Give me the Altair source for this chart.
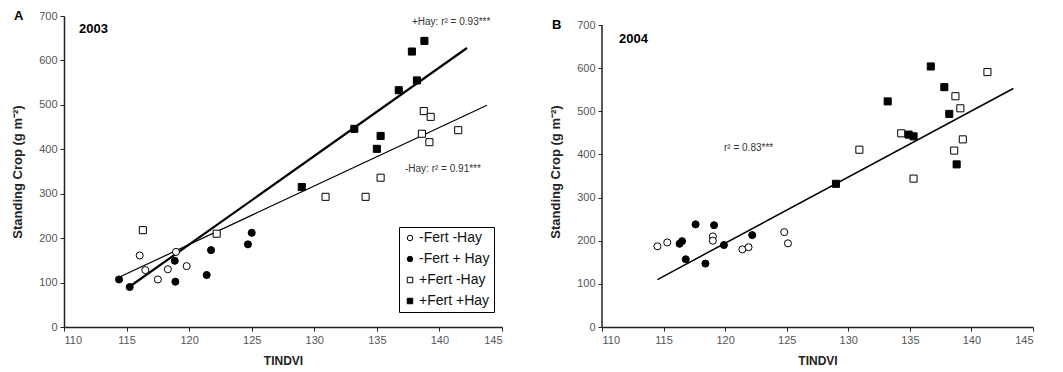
import altair as alt
import pandas as pd

groups = ["-Fert -Hay", "-Fert + Hay", "+Fert -Hay", "+Fert +Hay"]

# ---- 2003 (panel A) ----
a_ffh_x = [116.05, 116.5, 117.5, 118.3, 118.95, 119.8]
a_ffh_y = [161, 128, 107, 130, 169, 137]
a_fph_x = [114.4, 115.25, 118.85, 118.9, 121.4, 121.75, 124.7, 125.0]
a_fph_y = [107, 90, 149, 102, 117, 173, 186, 212]
a_pfh_x = [116.3, 122.2, 130.9, 134.1, 135.3, 138.6, 138.75, 139.2, 139.3, 141.5]
a_pfh_y = [218, 210, 293, 293, 336, 435, 486, 416, 473, 443]
a_pph_x = [129.0, 133.2, 135.0, 135.3, 136.75, 137.8, 138.2, 138.8]
a_pph_y = [315, 446, 401, 430, 533, 620, 555, 644]

a_hay_line_x = [115.2, 142.2]
a_hay_line_y = [90, 628]
a_nohay_line_x = [114.4, 143.8]
a_nohay_line_y = [112, 499]

# ---- 2004 (panel B) ----
b_ffh_x = [114.5, 115.3, 119.0, 119.0, 121.4, 121.9, 124.8, 125.1]
b_ffh_y = [187, 196, 210, 200, 180, 185, 220, 194]
b_fph_x = [116.3, 116.5, 116.8, 117.6, 118.4, 119.1, 119.9, 122.2]
b_fph_y = [193, 199, 157, 238, 147, 236, 190, 213]
b_pfh_x = [130.9, 134.3, 135.3, 138.6, 138.7, 139.1, 139.3, 141.3]
b_pfh_y = [411, 449, 344, 409, 535, 507, 435, 591]
b_pph_x = [129.0, 133.2, 134.9, 135.3, 136.7, 137.8, 138.2, 138.8]
b_pph_y = [332, 523, 446, 442, 604, 556, 494, 377]

b_line_x = [114.5, 143.4]
b_line_y = [110, 553]

x_ticks = [110, 115, 120, 125, 130, 135, 140, 145]
y_ticks = [0, 100, 200, 300, 400, 500, 600, 700]

FONT = "Liberation Sans"


def points_df(sets):
    rows = []
    for g, xs, ys in sets:
        for x, y in zip(xs, ys):
            rows.append({"TINDVI": x, "crop": y, "group": g})
    return pd.DataFrame(rows)


def line_df(xs, ys):
    return pd.DataFrame({"TINDVI": xs, "crop": ys})


dfA = points_df([(groups[0], a_ffh_x, a_ffh_y), (groups[1], a_fph_x, a_fph_y),
                 (groups[2], a_pfh_x, a_pfh_y), (groups[3], a_pph_x, a_pph_y)])
dfB = points_df([(groups[0], b_ffh_x, b_ffh_y), (groups[1], b_fph_x, b_fph_y),
                 (groups[2], b_pfh_x, b_pfh_y), (groups[3], b_pph_x, b_pph_y)])

xenc = alt.X("TINDVI:Q",
             scale=alt.Scale(domain=[110, 145], nice=False, zero=False),
             axis=alt.Axis(values=x_ticks, title="TINDVI", grid=False))
yencA = alt.Y("crop:Q",
              scale=alt.Scale(domain=[0, 700], nice=False),
              axis=alt.Axis(values=y_ticks, title="Standing Crop (g m⁻²)", grid=False))
# panel B: plot area is drawn 9 px lower at the top in the reference
yencB = alt.Y("crop:Q",
              scale=alt.Scale(domain=[0, 721], nice=False),
              axis=alt.Axis(values=y_ticks, title="Standing Crop (g m⁻²)", grid=False,
                            domain=False))


def point_layer(df, yenc, with_legend):
    if with_legend:
        leg = alt.Legend(title=None, orient="none", legendX=335, legendY=211,
                         strokeColor="black", fillColor="white", padding=4,
                         labelFontSize=14, labelFont=FONT, labelColor="#111",
                         symbolSize=30, symbolStrokeWidth=1, rowPadding=7,
                         labelOffset=2)
    else:
        leg = None
    return alt.Chart(df).mark_point(filled=True, strokeWidth=1,
                                    opacity=1, size=50).encode(
        x=xenc, y=yenc,
        shape=alt.Shape("group:N", scale=alt.Scale(domain=groups,
                        range=["circle", "circle", "square", "square"]), legend=leg),
        fill=alt.Fill("group:N", scale=alt.Scale(domain=groups,
                      range=["white", "black", "white", "black"]), legend=leg),
        stroke=alt.Stroke("group:N", scale=alt.Scale(domain=groups,
                          range=["black", "black", "black", "black"]), legend=leg),
    )


def line_layer(xs, ys, yenc, width):
    return alt.Chart(line_df(xs, ys)).mark_line(color="black", strokeWidth=width).encode(
        x=xenc, y=yenc)


def label(text, x, y, size, bold=False, color="black", align="left"):
    return alt.Chart(pd.DataFrame({"t": [text]})).mark_text(
        fontSize=size, font=FONT, fontWeight="bold" if bold else "normal",
        color=color, align=align, baseline="middle").encode(
        text="t:N", x=alt.value(x), y=alt.value(y))


axis_lineB = alt.Chart(pd.DataFrame({"a": [0]})).mark_rule(
    color="#222", strokeWidth=1.5).encode(
    x=alt.value(0), y=alt.datum(0), y2=alt.datum(700))

panelA = alt.layer(
    line_layer(a_nohay_line_x, a_nohay_line_y, yencA, 1.2),
    line_layer(a_hay_line_x, a_hay_line_y, yencA, 2.2),
    point_layer(dfA, yencA, True),
    label("A", -50, 0, 13, bold=True),
    label("2003", 15, 13, 13, bold=True),
    label("+Hay: r² = 0.93***", 348, 6, 10, color="#333"),
    label("-Hay: r² = 0.91***", 341, 153, 10, color="#333"),
).resolve_scale(shape="independent", fill="independent", stroke="independent"
).properties(width=438, height=311)

panelB = alt.layer(
    axis_lineB,
    line_layer(b_line_x, b_line_y, yencB, 1.5),
    point_layer(dfB, yencB, False),
    label("B", -50, 9, 13, bold=True),
    label("2004", 17, 23, 13, bold=True),
    label("r² = 0.83***", 122, 132, 10, color="#333"),
).properties(width=431, height=311)

chart = alt.hconcat(panelA, panelB, spacing=46).resolve_scale(
    shape="independent", fill="independent", stroke="independent"
).resolve_legend(shape="independent", fill="independent", stroke="independent").properties(
    padding={"left": 3, "top": 2, "right": 2, "bottom": 2}
).configure_view(stroke=None).configure_axis(
    labelFont=FONT, titleFont=FONT, labelFontSize=11, labelColor="#555",
    titleFontWeight="bold", titleColor="#222", domainColor="#222", domainWidth=1.5,
    tickColor="#222", tickSize=4, tickWidth=1
).configure_axisX(titleFontSize=12, titlePadding=10, labelPadding=3
).configure_axisY(titleFontSize=13, titlePadding=14, labelPadding=3)

chart.save("out.html", embed_options={"renderer": "svg", "actions": False})
